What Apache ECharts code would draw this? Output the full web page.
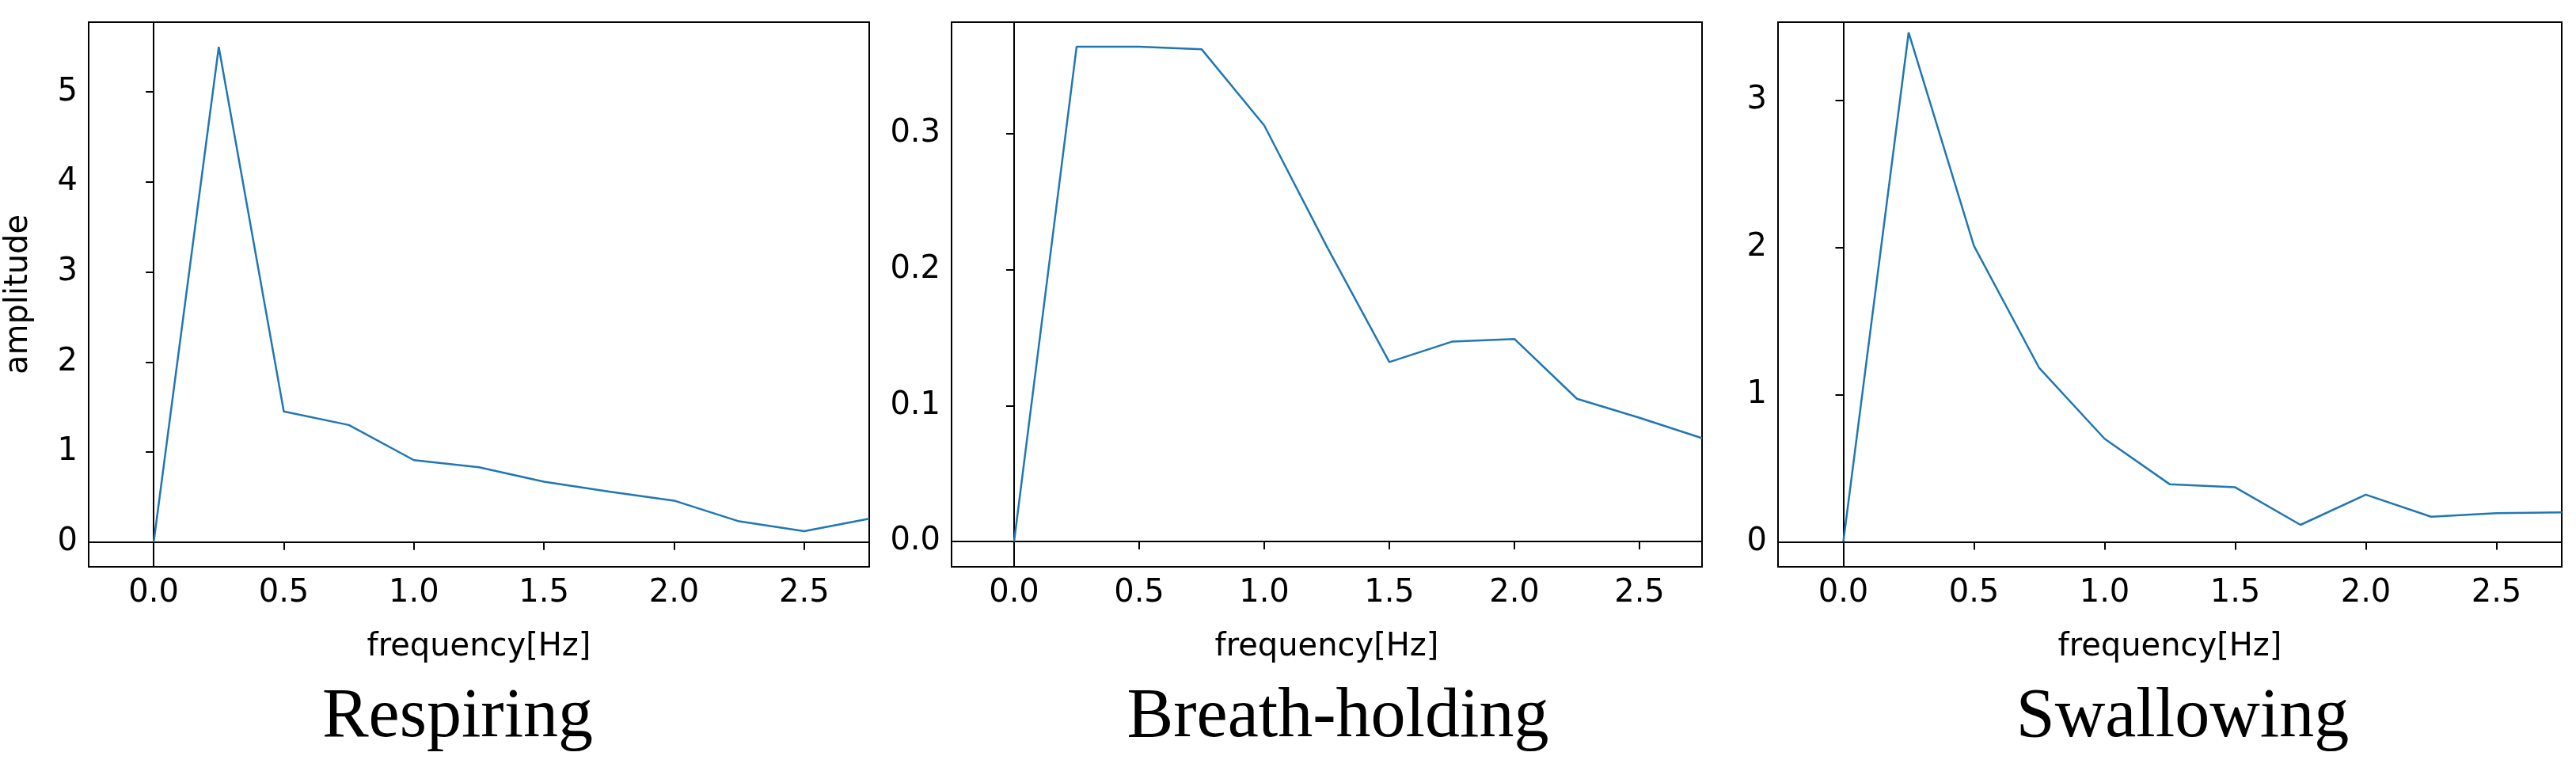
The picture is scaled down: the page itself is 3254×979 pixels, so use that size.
<!DOCTYPE html>
<html><head><meta charset="utf-8">
<script src="https://cdn.jsdelivr.net/npm/echarts@6/dist/echarts.min.js"></script>
<style>html,body{margin:0;padding:0;background:#fff}#c{width:3254px;height:979px}</style>
</head><body><div id="c"></div>
<script>
const freq = [0, 0.25, 0.5, 0.75, 1.0, 1.25, 1.5, 1.75, 2.0, 2.25, 2.5, 2.75];
const respiring = [0, 5.5, 1.45, 1.30, 0.91, 0.83, 0.67, 0.56, 0.46, 0.23, 0.12, 0.26];
const breathHolding = [0, 0.364, 0.364, 0.362, 0.306, 0.217, 0.132, 0.147, 0.149, 0.105, 0.091, 0.076];
const swallowing = [0, 3.46, 2.01, 1.18, 0.70, 0.39, 0.37, 0.115, 0.32, 0.17, 0.195, 0.20];
const xTicks = [0, 0.5, 1.0, 1.5, 2.0, 2.5];
const yTicks1 = [0, 1, 2, 3, 4, 5];
const yTicks2 = [0, 0.1, 0.2, 0.3];
const yTicks3 = [0, 1, 2, 3];
const titles = ['Respiring', 'Breath-holding', 'Swallowing'];

const grids = [
  {left:112, width:986, top:28, height:688},
  {left:1202, width:948, top:28, height:688},
  {left:2246, width:990, top:28, height:688}
];
const yRanges = [[-0.275, 5.775], [-0.0186, 0.382], [-0.17, 3.53]];
const yTicks = [yTicks1, yTicks2, yTicks3];
const yFmt = [v => String(v), v => v.toFixed(1), v => String(v)];
const series = [respiring, breathHolding, swallowing];
const font = 'DejaVu Sans';

const option = {
  animation: false,
  grid: grids.map(g => Object.assign({show:true, borderColor:'#000', borderWidth:2, backgroundColor:'transparent'}, g)),
  xAxis: grids.map((g, i) => ({
    type:'value', gridIndex:i, min:-0.25, max:2.75,
    name:'frequency[Hz]', nameLocation:'middle', nameGap:82,
    nameTextStyle:{fontFamily:font, fontSize:40, color:'#000'},
    axisLine:{show:true, lineStyle:{color:'#000', width:2}},
    axisTick:{show:true, length:10, lineStyle:{color:'#000', width:2}, customValues:xTicks},
    axisLabel:{fontFamily:font, fontSize:40, color:'#000', margin:14, customValues:xTicks, formatter:v => v.toFixed(1)},
    splitLine:{show:false}
  })),
  yAxis: grids.map((g, i) => ({
    type:'value', gridIndex:i, min:yRanges[i][0], max:yRanges[i][1],
    name: i === 0 ? 'amplitude' : '', nameLocation:'middle', nameGap:68, nameRotate:90,
    nameTextStyle:{fontFamily:font, fontSize:40, color:'#000'},
    axisLine:{show:true, lineStyle:{color:'#000', width:2}},
    axisTick:{show:true, length:10, lineStyle:{color:'#000', width:2}, customValues:yTicks[i]},
    axisLabel:{fontFamily:font, fontSize:40, color:'#000', margin:14, customValues:yTicks[i], formatter:yFmt[i]},
    splitLine:{show:false}
  })),
  title: titles.map((t, i) => ({
    text:t, left: [573, 1685, 2752][i], top:858, textAlign:'center',
    textStyle:{fontFamily:'Liberation Serif', fontSize:88, fontWeight:'normal', color:'#000'}
  })),
  series: series.map((s, i) => ({
    type:'line', xAxisIndex:i, yAxisIndex:i, showSymbol:false, clip:true,
    data: freq.map((f, k) => [f, s[k]]),
    lineStyle:{color:'#1f77b4', width:2.5}
  }))
};
echarts.init(document.getElementById('c')).setOption(option);
</script></body></html>
